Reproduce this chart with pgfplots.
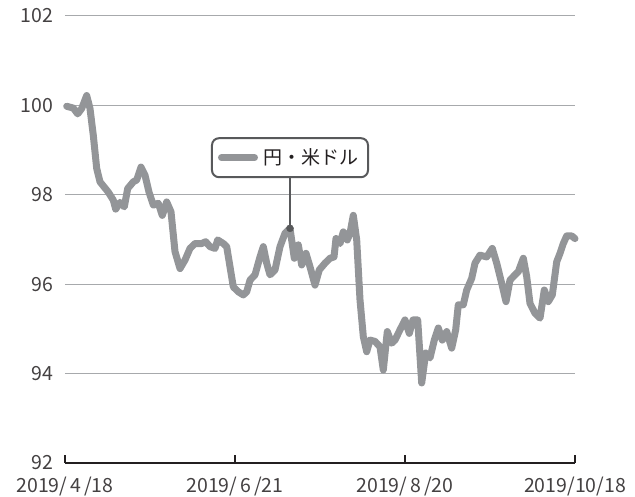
\documentclass[border=0pt]{standalone}
\usepackage{fontspec}
\setmainfont{Noto Sans CJK JP}
\usepackage{pgfplots}
\pgfplotsset{compat=1.18}
\definecolor{lineg}{HTML}{939598}
\definecolor{gridg}{HTML}{A7A9AC}
\definecolor{dk}{HTML}{231F20}
\definecolor{boxg}{HTML}{58595B}
\begin{document}
\begin{tikzpicture}
\begin{axis}[
 scale only axis, width=510pt, height=447pt,
 xmin=65, xmax=575, ymin=92, ymax=102,
 axis x line=bottom, axis y line=left, axis line style={-},
 y axis line style={draw=none},
 x axis line style={dk, line width=2.5pt},
 xtick={65,235,405,575},
 xticklabels={2019/\hspace{3pt}4\hspace{3pt}/18, 2019/\hspace{3pt}6\hspace{3pt}/21, 2019/\hspace{3pt}8\hspace{3pt}/20, 2019/10/18},
 ytick={92,94,...,102},
 ymajorgrids, grid style={gridg, line width=1pt},
 ytick style={draw=none},
 xtick style={dk, line width=2.5pt},
 xtick align=inside, major tick length=8pt,
 tick label style={font=\fontsize{19.5}{22}\selectfont, text=dk!85},
 /pgf/number format/assume math mode=true,
 yticklabel style={xshift=-4pt},
 xticklabel style={anchor=center, yshift=-24pt},
 clip=false,
]
\addplot[no marks, lineg, line width=7pt, line join=round, line cap=round] coordinates {
(66.7,99.98) (73.3,99.94) (77.7,99.81) (81.7,99.93) (86.7,100.22) (90,99.93)
(93.3,99.33) (96.7,98.59) (100,98.29) (108.3,98.06) (113.3,97.88) (115.7,97.68)
(120,97.83) (124.3,97.73) (127.7,98.14) (133.3,98.29) (136.7,98.33) (141,98.62)
(145,98.44) (149,98.06) (153.3,97.77) (158.3,97.81) (162.3,97.54) (166.7,97.84)
(171,97.62) (175,96.73) (180,96.35) (185,96.54) (190,96.80) (195,96.91)
(201.7,96.91) (205.7,96.95) (210,96.84) (215,96.80) (217.7,96.99) (223.3,96.91)
(226.7,96.84) (230,96.39) (233.3,95.94) (238.3,95.83) (243.3,95.76) (246.7,95.83)
(250,96.09) (255,96.21) (260,96.61) (263.3,96.84) (266.7,96.47) (270,96.21)
(275,96.32) (280,96.84) (285,97.14) (290,97.25) (294.3,96.58) (298.3,96.88)
(301.7,96.43) (306,96.69) (310,96.39) (315,95.98) (319.3,96.32) (325,96.47)
(330,96.58) (334,96.61) (336,97.02) (340,96.91) (343.3,97.17) (347.3,96.99)
(350,97.14) (353.3,97.54) (356.7,96.99) (360,95.65) (363.3,94.83) (366.7,94.49)
(370,94.75) (375,94.72) (380,94.60) (383.3,94.08) (387.3,94.94) (391.7,94.68)
(395,94.75) (400,94.98) (405,95.20) (409.3,94.90) (413,95.20) (417.7,95.20)
(421.7,93.79) (425.7,94.46) (430,94.35) (434.3,94.75) (438.3,95.02) (442.3,94.75)
(446.7,94.94) (451.7,94.57) (455.7,94.98) (458.3,95.54) (463.3,95.54) (466.7,95.87)
(471.7,96.13) (475,96.47) (480,96.65) (486.7,96.61) (492.3,96.80) (496.7,96.47)
(501.7,96.02) (506,95.61) (510,96.09) (515,96.21) (518.3,96.28) (523.3,96.58)
(526.7,96.17) (530,95.57) (535,95.35) (540,95.24) (544.3,95.87) (548.3,95.61)
(552.3,95.76) (556.7,96.50) (560,96.69) (563.3,96.91) (566.7,97.08) (571.7,97.08)
(575,97.02)
};
\draw[boxg, line width=1.3pt] (axis cs:290,97.25) -- (axis cs:290,98.5);
\node[draw=boxg, line width=2pt, rounded corners=7pt, fill=white, minimum width=156pt, minimum height=39pt, inner sep=0pt] at (axis cs:290,98.83) {};
\draw[lineg, line width=7pt, line cap=round] (axis cs:221.5,98.83) -- (axis cs:254.5,98.83);
\node[text=dk, font=\fontsize{19}{22}\selectfont, inner sep=0pt] at (axis cs:311,98.83) {円・米ドル};
\addplot[only marks, mark=*, mark size=3.5pt, boxg] coordinates {(290,97.25)};
\end{axis}
\pgfresetboundingbox
\path[use as bounding box] (-65pt,-34pt) rectangle (570pt,463pt);
\end{tikzpicture}
\end{document}
